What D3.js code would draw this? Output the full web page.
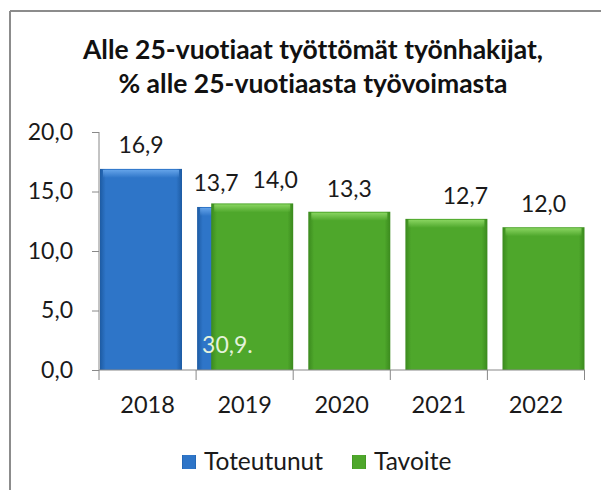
<!DOCTYPE html>
<html>
<head>
<meta charset="utf-8">
<script src="https://cdn.jsdelivr.net/npm/d3@7"></script>
<style>
  html, body { margin: 0; padding: 0; background: #fff; }
  svg { display: block; font-family: Lato, "Open Sans", sans-serif; font-variant-ligatures: none; }
</style>
</head>
<body>
<svg id="chart" width="601" height="490"></svg>
<script>
const years = ["2018", "2019", "2020", "2021", "2022"];
const toteutunut = [16.9, 13.7, null, null, null];
const tavoite = [null, 14.0, 13.3, 12.7, 12.0];
const yTicks = [0, 5, 10, 15, 20];
const titleLines = ["Alle 25-vuotiaat työttömät työnhakijat,", "% alle 25-vuotiaasta työvoimasta"];
const seriesNames = ["Toteutunut", "Tavoite"];
const strayText = "30,9.";

const svg = d3.select("#chart");
const W = 601, H = 490;
const fmt = v => d3.format(".1f")(v).replace(".", ",");

// frame (only top and left edges show)
svg.append("rect").attr("width", W).attr("height", H).attr("fill", "#fff");
svg.append("line").attr("x1", 10).attr("x2", W).attr("y1", 11).attr("y2", 11)
  .attr("stroke", "#8c8c8c").attr("stroke-width", 2);
svg.append("line").attr("x1", 10).attr("x2", 10).attr("y1", 11).attr("y2", H)
  .attr("stroke", "#8c8c8c").attr("stroke-width", 2);

// title
svg.append("g").selectAll("text").data(titleLines).join("text")
  .attr("x", 313)
  .attr("y", (d, i) => 59 + i * 34)
  .attr("text-anchor", "middle")
  .attr("font-size", 26.5)
  .attr("font-weight", "bold")
  .attr("fill", "#111")
  .text(d => d);

const x = d3.scaleBand().domain(years).range([99, 584.5]);
const y = d3.scaleLinear().domain([0, 20]).range([370, 132]);
const bw = 82;

// gradients for the bevelled bars
const defs = svg.append("defs");
function grad(id, edge, mid) {
  const g = defs.append("linearGradient").attr("id", id).attr("x1", "0").attr("x2", "1");
  [[0, edge], [0.07, mid], [0.5, mid], [0.93, mid], [1, edge]].forEach(([o, c]) =>
    g.append("stop").attr("offset", o).attr("stop-color", c));
}
grad("gBlue", "#1d5ba3", "#2e75c8");
grad("gGreen", "#3b8a1e", "#4ea72b");
function topGrad(id, c) {
  const g = defs.append("linearGradient").attr("id", id).attr("x1", "0").attr("x2", "0").attr("y1", "0").attr("y2", "1");
  g.append("stop").attr("offset", 0).attr("stop-color", c).attr("stop-opacity", 0.9);
  g.append("stop").attr("offset", 1).attr("stop-color", c).attr("stop-opacity", 0);
}
topGrad("hBlue", "#6aa8ec");
topGrad("hGreen", "#8fd966");

function drawBars(vals, cls, fill, hi, xoff) {
  const data = years.map((yr, i) => ({ yr, v: vals[i] })).filter(d => d.v != null);
  const g = svg.append("g").attr("class", cls);
  g.selectAll("rect.b").data(data).join("rect").attr("class", "b")
    .attr("x", d => xoff(d.yr))
    .attr("y", d => y(d.v))
    .attr("width", bw)
    .attr("height", d => y(0) - y(d.v))
    .attr("fill", fill);
  g.selectAll("rect.h").data(data).join("rect").attr("class", "h")
    .attr("x", d => xoff(d.yr) + 3)
    .attr("y", d => y(d.v) + 1)
    .attr("width", bw - 6)
    .attr("height", 8)
    .attr("fill", hi);
  return data;
}

const blueX = yr => x(yr) + 1;
const greenX = yr => x(yr) + x.bandwidth() - bw;
const blueData = drawBars(toteutunut, "toteutunut", "url(#gBlue)", "url(#hBlue)", blueX);
const greenData = drawBars(tavoite, "tavoite", "url(#gGreen)", "url(#hGreen)", greenX);

// stray text over the 2019 bars
svg.append("text")
  .attr("x", blueX("2019") + 5)
  .attr("y", y(0) - 17)
  .attr("font-size", 23)
  .attr("fill", "#e4f2dc")
  .text(strayText);

// axes
const yAxis = svg.append("g")
  .attr("transform", `translate(${x.range()[0]},0)`)
  .call(d3.axisLeft(y).tickValues(yTicks).tickFormat(fmt).tickSize(7).tickPadding(19));
yAxis.select(".domain").attr("stroke", "#888").attr("d", `M0,${y(20)}V${y(0)}`);
yAxis.selectAll(".tick line").attr("stroke", "#888");
yAxis.selectAll(".tick text").attr("font-size", 23).attr("fill", "#1a1a1a")
  .attr("font-family", "Lato, sans-serif");

const xAxis = svg.append("g")
  .attr("transform", `translate(0,${y(0)})`)
  .call(d3.axisBottom(x).tickSize(0).tickPadding(26));
xAxis.select(".domain").attr("stroke", "#888")
  .attr("d", `M${x.range()[0]},0H${x.range()[1]}`);
xAxis.selectAll(".tick text").attr("font-size", 23.5).attr("fill", "#1a1a1a")
  .attr("font-family", "Lato, sans-serif");
xAxis.selectAll("line.sep").data(years.concat(["end"])).join("line").attr("class", "sep")
  .attr("x1", d => d === "end" ? x.range()[1] : x(d))
  .attr("x2", d => d === "end" ? x.range()[1] : x(d))
  .attr("y1", 0).attr("y2", 10)
  .attr("stroke", "#888");

// value labels
const nudgeBlue = [0, -22];
const nudgeGreen = [0, 23, 0, 19, 0];
svg.append("g").selectAll("text").data(blueData).join("text")
  .attr("x", (d, i) => blueX(d.yr) + bw / 2 + nudgeBlue[i])
  .attr("y", d => y(d.v) - 16)
  .attr("text-anchor", "middle")
  .attr("font-size", 23)
  .attr("fill", "#1a1a1a")
  .text(d => fmt(d.v));
svg.append("g").selectAll("text").data(greenData).join("text")
  .attr("x", d => greenX(d.yr) + bw / 2 + nudgeGreen[years.indexOf(d.yr)])
  .attr("y", d => y(d.v) - 15)
  .attr("text-anchor", "middle")
  .attr("font-size", 23)
  .attr("fill", "#1a1a1a")
  .text(d => fmt(d.v));

// legend
const legend = svg.append("g");
const legX = [182, 352];
const legFill = ["url(#gBlue)", "url(#gGreen)"];
seriesNames.forEach((n, i) => {
  legend.append("rect").attr("x", legX[i]).attr("y", 455).attr("width", 14).attr("height", 14)
    .attr("fill", legFill[i]);
  legend.append("text").attr("x", legX[i] + 22).attr("y", 469.5)
    .attr("font-size", 24.5).attr("fill", "#1a1a1a").text(n);
});
</script>
</body>
</html>
